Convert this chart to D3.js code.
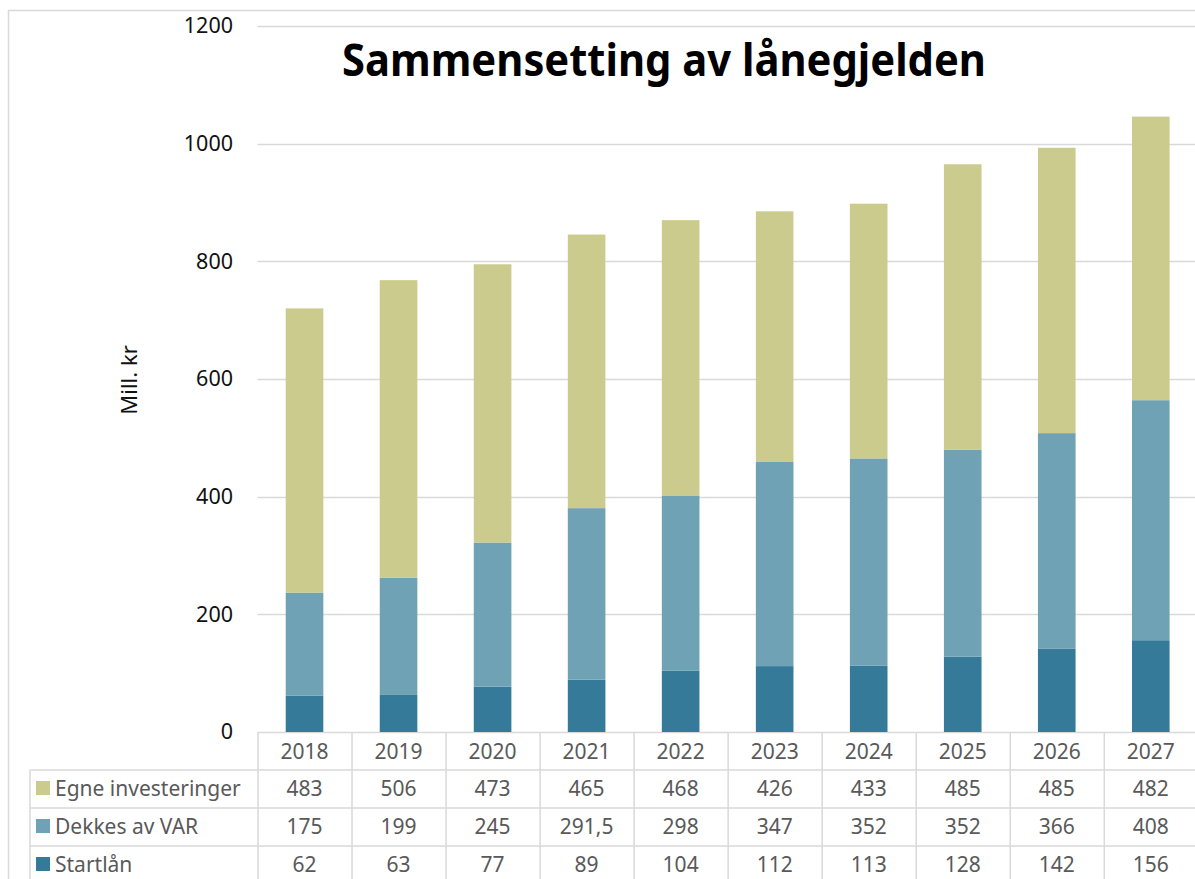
<!DOCTYPE html>
<html>
<head>
<meta charset="utf-8">
<script src="https://cdn.jsdelivr.net/npm/d3@7"></script>
<style>
  html, body { margin: 0; padding: 0; background: #fff; }
  svg { display: block; }
  text { font-family: "Noto Sans", "Open Sans", sans-serif; }
</style>
</head>
<body>
<script>
// ---- data ----
const years = ["2018","2019","2020","2021","2022","2023","2024","2025","2026","2027"];
const egneInvesteringer = [483, 506, 473, 465, 468, 426, 433, 485, 485, 482];
const dekkesAvVAR = [175, 199, 245, 291.5, 298, 347, 352, 352, 366, 408];
const startlan = [62, 63, 77, 89, 104, 112, 113, 128, 142, 156];
const seriesNames = ["Egne investeringer", "Dekkes av VAR", "Startlån"];
const yTicks = [0, 200, 400, 600, 800, 1000, 1200];
const titleText = "Sammensetting av lånegjelden";
const yLabel = "Mill. kr";

// ---- layout ----
const W = 1195, H = 879;
const plotLeft = 257.5, plotRight = 1197.8;
const yTop = 26, yBottom = 732;
const rowH = 38;
const labelLeft = 30;
const gridColor = "#d9d9d9";
const colors = {"Egne investeringer": "#cbcb8e", "Dekkes av VAR": "#6fa2b4", "Startlån": "#357b99"};

const svg = d3.select("body").append("svg").attr("width", W).attr("height", H);

// outer border (top & left)
svg.append("line").attr("x1", 8).attr("x2", W).attr("y1", 10.5).attr("y2", 10.5)
  .attr("stroke", gridColor).attr("stroke-width", 1.5);
svg.append("line").attr("x1", 8.5).attr("x2", 8.5).attr("y1", 10).attr("y2", H)
  .attr("stroke", gridColor).attr("stroke-width", 1.5);

const x = d3.scaleBand().domain(years).range([plotLeft, plotRight]).paddingInner(0).paddingOuter(0);
const y = d3.scaleLinear().domain([0, 1200]).range([yBottom, yTop]);

// gridlines
svg.append("g").selectAll("line").data(yTicks).join("line")
  .attr("x1", plotLeft).attr("x2", W)
  .attr("y1", d => Math.round(y(d)) + 0.5).attr("y2", d => Math.round(y(d)) + 0.5)
  .attr("stroke", gridColor).attr("stroke-width", 1.5);

// y axis labels
const yAxis = d3.axisLeft(y).tickValues(yTicks).tickFormat(d3.format("d")).tickSize(0).tickPadding(0);
const gy = svg.append("g").attr("transform", "translate(233,0)").call(yAxis);
gy.select(".domain").remove();
gy.selectAll("text").attr("font-size", 21.5).attr("fill", "#111")
  .style("font-family", "'Noto Sans', sans-serif");

// stacked bars
const rows = years.map((yr, i) => ({year: yr, "Startlån": startlan[i], "Dekkes av VAR": dekkesAvVAR[i], "Egne investeringer": egneInvesteringer[i]}));
const stack = d3.stack().keys(["Startlån", "Dekkes av VAR", "Egne investeringer"]);
const stacked = stack(rows);
const barW = x.bandwidth() * 0.4;
svg.append("g").selectAll("g").data(stacked).join("g")
  .attr("fill", d => colors[d.key])
  .selectAll("rect").data(d => d).join("rect")
  .attr("x", d => x(d.data.year) + (x.bandwidth() - barW) / 2)
  .attr("width", barW)
  .attr("y", d => y(d[1]))
  .attr("height", d => y(d[0]) - y(d[1]));

// title
svg.append("text").attr("x", 664).attr("y", 76).attr("text-anchor", "middle")
  .attr("font-size", 44).attr("font-weight", "bold").attr("fill", "#000")
  .attr("textLength", 644).attr("lengthAdjust", "spacingAndGlyphs")
  .text(titleText);

// y axis title
svg.append("text").attr("transform", "translate(128,380) rotate(-90)")
  .attr("text-anchor", "middle").attr("dominant-baseline", "central")
  .attr("font-size", 22).attr("fill", "#111").text(yLabel);

// ---- data table ----
const tableBottom = H;
const g = svg.append("g");
const boundaries = years.map(d => x(d)).concat([plotRight]);
// vertical lines
g.selectAll("line.v").data(boundaries).join("line").attr("class", "v")
  .attr("x1", d => d + 0.5).attr("x2", d => d + 0.5)
  .attr("y1", yBottom).attr("y2", tableBottom)
  .attr("stroke", gridColor).attr("stroke-width", 1.5);
g.append("line").attr("x1", labelLeft).attr("x2", labelLeft)
  .attr("y1", yBottom + rowH).attr("y2", tableBottom)
  .attr("stroke", gridColor).attr("stroke-width", 1.5);
// horizontal lines
[1, 2, 3].forEach(k => {
  g.append("line").attr("x1", labelLeft).attr("x2", W)
    .attr("y1", yBottom + k * rowH).attr("y2", yBottom + k * rowH)
    .attr("stroke", gridColor).attr("stroke-width", 1.5);
});

// header years
g.selectAll("text.yr").data(years).join("text").attr("class", "yr")
  .attr("x", d => x(d) + x.bandwidth() / 2).attr("y", yBottom + rowH / 2)
  .attr("text-anchor", "middle").attr("dominant-baseline", "central")
  .attr("font-size", 21).attr("fill", "#595959").text(d => d);

const tableSeries = [
  {name: seriesNames[0], values: egneInvesteringer},
  {name: seriesNames[1], values: dekkesAvVAR},
  {name: seriesNames[2], values: startlan}
];
const fmt = v => String(v).replace(".", ",");
tableSeries.forEach((s, r) => {
  const cy = yBottom + rowH * (r + 1) + rowH / 2 - 1;
  g.append("rect").attr("x", 36).attr("y", cy - 7).attr("width", 14).attr("height", 14)
    .attr("fill", colors[s.name]);
  g.append("text").attr("x", 55).attr("y", cy).attr("dominant-baseline", "central")
    .attr("font-size", 21).attr("fill", "#595959").text(s.name);
  g.selectAll(null).data(s.values).join("text")
    .attr("x", (d, i) => x(years[i]) + x.bandwidth() / 2).attr("y", cy)
    .attr("text-anchor", "middle").attr("dominant-baseline", "central")
    .attr("font-size", 21).attr("fill", "#595959").text(d => fmt(d));
});
</script>
</body>
</html>
